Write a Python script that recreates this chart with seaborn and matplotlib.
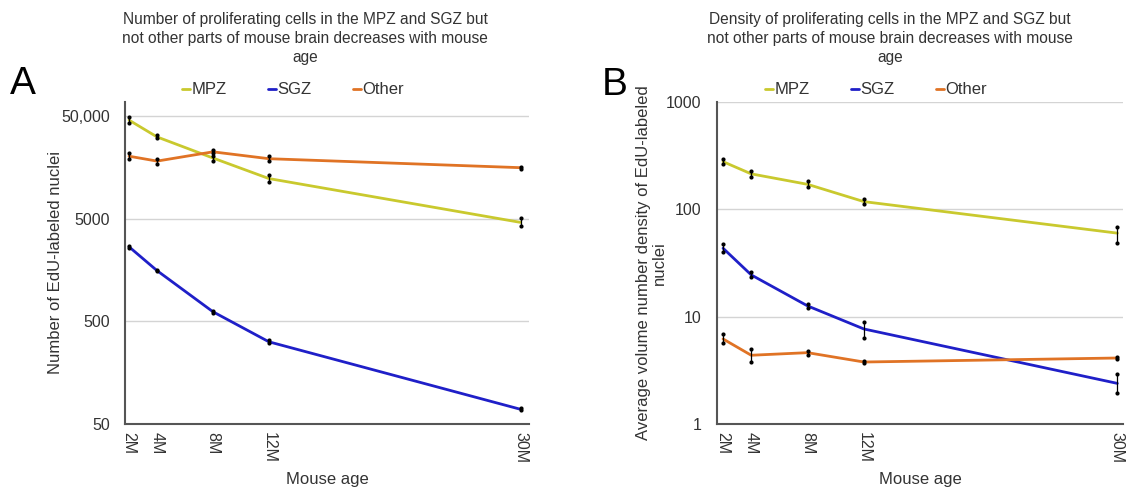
import matplotlib
matplotlib.use("Agg")
import matplotlib.pyplot as plt
import seaborn as sns
import pandas as pd

# Mouse ages (months) at which brains were sampled
ages = [2, 4, 8, 12, 30]
age_labels = ["2M", "4M", "8M", "12M", "30M"]
regions = ["MPZ", "SGZ", "Other"]

# Panel A: number of EdU-labeled nuclei (mean, low, high)
count_mpz = [45600, 31300, 19500, 12300, 4600]
count_mpz_lo = [42400, 30300, 18300, 11400, 4240]
count_mpz_hi = [49100, 32600, 20500, 13300, 5030]
count_sgz = [2660, 1560, 620, 316, 69.5]
count_sgz_lo = [2600, 1530, 605, 305, 68]
count_sgz_hi = [2720, 1590, 635, 327, 71]
count_other = [20300, 18200, 22400, 19200, 15700]
count_other_lo = [19000, 17000, 21600, 18200, 15300]
count_other_hi = [21600, 18900, 23300, 20400, 16000]

# Panel B: average volume number density of EdU-labeled nuclei (mean, low, high)
dens_mpz = [278, 214, 171, 118, 60]
dens_mpz_lo = [263, 202, 161, 112, 48.7]
dens_mpz_hi = [295, 228, 185, 124, 69]
dens_sgz = [43.4, 24.5, 12.6, 7.68, 2.39]
dens_sgz_lo = [40.3, 23.6, 12.0, 6.3, 1.93]
dens_sgz_hi = [47.6, 26.2, 13.1, 8.98, 2.9]
dens_other = [6.2, 4.37, 4.62, 3.78, 4.12]
dens_other_lo = [5.7, 3.8, 4.42, 3.7, 4.0]
dens_other_hi = [6.85, 5.0, 4.82, 3.86, 4.24]

count_ticks = [50, 500, 5000, 50000]
count_tick_labels = ["50", "500", "5000", "50,000"]
dens_ticks = [1, 10, 100, 1000]
dens_tick_labels = ["1", "10", "100", "1000"]

palette = {"MPZ": "#c9c92e", "SGZ": "#1f1fc8", "Other": "#e07325"}
text_color = "#333333"

sns.set_theme(style="white")
plt.rcParams["font.family"] = ["Liberation Sans", "DejaVu Sans"]


def long_table(means, los, his):
    rows = []
    for reg, m, lo, hi in zip(regions, means, los, his):
        for a, v, l, h in zip(ages, m, lo, hi):
            rows.append({"age": a, "value": v, "lo": l, "hi": h, "region": reg})
    return pd.DataFrame(rows)


df_count = long_table([count_mpz, count_sgz, count_other],
                      [count_mpz_lo, count_sgz_lo, count_other_lo],
                      [count_mpz_hi, count_sgz_hi, count_other_hi])
df_dens = long_table([dens_mpz, dens_sgz, dens_other],
                     [dens_mpz_lo, dens_sgz_lo, dens_other_lo],
                     [dens_mpz_hi, dens_sgz_hi, dens_other_hi])

fig = plt.figure(figsize=(11.26, 4.88), dpi=100)
ax_a = fig.add_axes([125 / 1126, 64 / 488, 404 / 1126, 322 / 488])
ax_b = fig.add_axes([717 / 1126, 64 / 488, 406 / 1126, 322 / 488])


def draw_panel(ax, df, ylim, xlim, ticks, tick_labels):
    ax.set_yscale("log")
    sns.lineplot(data=df, x="age", y="value", hue="region", hue_order=regions,
                 palette=palette, linewidth=2.0, legend=False, ax=ax,
                 sort=True, zorder=3)
    ax.vlines(df["age"], df["lo"], df["hi"], color="black", linewidth=0.9, zorder=4)
    ax.scatter(df["age"], df["lo"], s=9, color="black", zorder=5, linewidths=0)
    ax.scatter(df["age"], df["hi"], s=9, color="black", zorder=5, linewidths=0)
    ax.set_ylim(*ylim)
    ax.set_xlim(*xlim)
    ax.set_yticks(ticks)
    ax.set_yticklabels(tick_labels, fontsize=11.5, color=text_color)
    ax.yaxis.set_minor_locator(matplotlib.ticker.NullLocator())
    ax.set_xticks(ages)
    ax.set_xticklabels(age_labels, rotation=270, fontsize=11.5, color=text_color)
    ax.tick_params(axis="y", length=0, pad=11)
    ax.tick_params(axis="x", length=0, pad=6)
    ax.grid(axis="y", color="#d4d4d4", linewidth=1.0)
    ax.grid(axis="x", visible=False)
    for side in ("top", "right"):
        ax.spines[side].set_visible(False)
    for side in ("left", "bottom"):
        ax.spines[side].set_color("#555555")
        ax.spines[side].set_linewidth(1.5)
    ax.set_xlabel("Mouse age", fontsize=12, color=text_color, labelpad=6)


draw_panel(ax_a, df_count, (50, 68500), (1.71, 30.6), count_ticks, count_tick_labels)
draw_panel(ax_b, df_dens, (1, 1000), (1.57, 30.4), dens_ticks, dens_tick_labels)

ax_a.set_ylabel("Number of EdU-labeled nuclei", fontsize=12, color=text_color)
ax_a.yaxis.set_label_coords(-0.153, 0.5)
ax_b.set_ylabel("Average volume number density of EdU-labeled\nnuclei", fontsize=12,
                color=text_color, linespacing=1.05)
ax_b.yaxis.set_label_coords(-0.123, 0.5)

# Titles
title_tail = "not other parts of mouse brain decreases with mouse\nage"
fig.text(305 / 1126, 1 - 12 / 488,
         "Number of proliferating cells in the MPZ and SGZ but\n" + title_tail,
         ha="center", va="top", fontsize=11.2, color=text_color, linespacing=1.32)
fig.text(890 / 1126, 1 - 12 / 488,
         "Density of proliferating cells in the MPZ and SGZ but\n" + title_tail,
         ha="center", va="top", fontsize=11.2, color=text_color, linespacing=1.32)

# Panel letters
fig.text(10 / 1126, 1 - 94 / 488, "A", fontsize=28, color="black", ha="left", va="baseline")
fig.text(602 / 1126, 1 - 95 / 488, "B", fontsize=28, color="black", ha="left", va="baseline")

# Legends
handles = [matplotlib.lines.Line2D([], [], color=palette[r], linewidth=2.0) for r in regions]
for xc in (293, 876):
    fig.legend(handles, regions, loc="center", bbox_to_anchor=(xc / 1126, 1 - 90 / 488),
               ncol=3, frameon=False, fontsize=12, handlelength=0.45, handletextpad=0.1,
               columnspacing=2.5, labelcolor=text_color)

fig.savefig("out.png", dpi=100)
